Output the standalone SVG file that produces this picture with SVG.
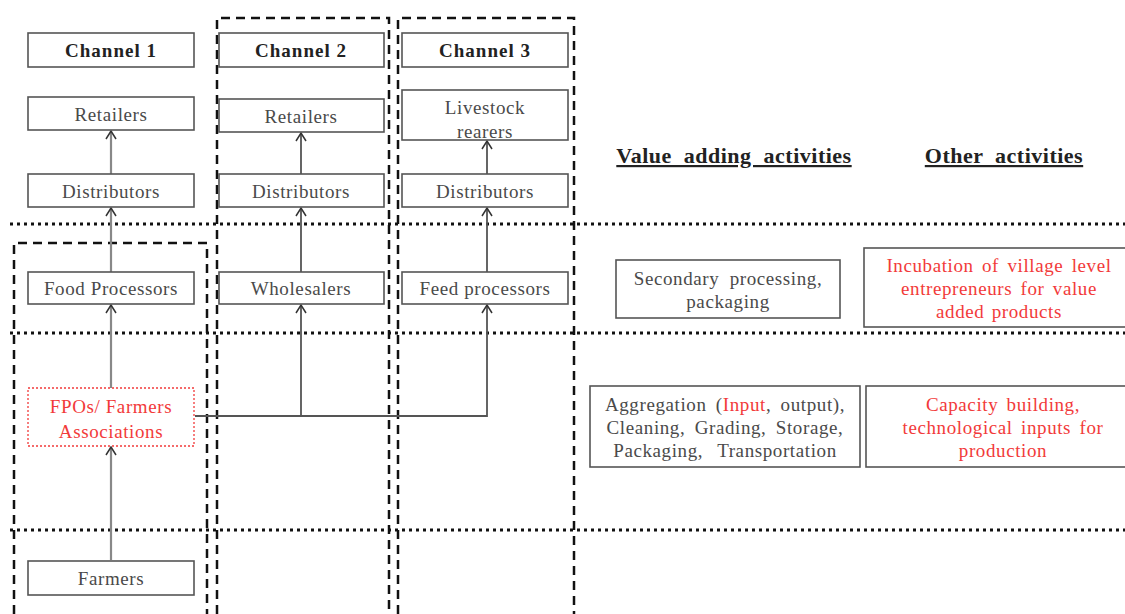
<svg xmlns="http://www.w3.org/2000/svg" width="1125" height="614" viewBox="0 0 1125 614">
<defs>
<marker id="ah" viewBox="0 0 10 12" refX="9" refY="6" markerWidth="10" markerHeight="12" markerUnits="userSpaceOnUse" orient="auto-start-reverse">
<path d="M1,1 L9,6 L1,11" fill="none" stroke="#333" stroke-width="1.5"/>
</marker>
<style>
.box{fill:#fff;stroke:#555;stroke-width:1.6}
.lbl{font-family:'Liberation Serif','Times New Roman','DejaVu Serif',serif;font-size:19px;letter-spacing:0.6px;fill:#4a4a4a;text-anchor:middle}
.hd{font-family:'Liberation Serif','Times New Roman','DejaVu Serif',serif;font-size:19px;letter-spacing:1px;font-weight:bold;fill:#222;text-anchor:middle}
.red{fill:#f23a3a}
.ttl{font-family:'Liberation Serif','Times New Roman','DejaVu Serif',serif;font-size:22px;letter-spacing:0.5px;font-weight:bold;fill:#222;text-anchor:middle;text-decoration:underline;word-spacing:6px}
.dot{stroke:#111;stroke-width:3;stroke-dasharray:3 4;fill:none}
.dash{stroke:#111;stroke-width:2.5;stroke-dasharray:9 6;fill:none}
.con{stroke:#555;stroke-width:1.8;fill:none}
.con1{stroke:#888;stroke-width:2.2;fill:none}
</style>
</defs>
<g id="bands">
<line class="dot" x1="10" y1="224" x2="1125" y2="224"/>
<line class="dot" x1="10" y1="333" x2="1125" y2="333"/>
<line class="dot" x1="10" y1="530" x2="1125" y2="530"/>
</g>
<g id="channel-frames">
<path class="dash" d="M14,614 V243 H207 V614"/>
<path class="dash" d="M217,614 V18 H389 V614"/>
<path class="dash" d="M398,614 V18 H574 V614"/>
</g>
<g id="connectors">
<line class="con1" x1="111" y1="174" x2="111" y2="131" marker-end="url(#ah)"/>
<line class="con1" x1="111" y1="272" x2="111" y2="208" marker-end="url(#ah)"/>
<line class="con1" x1="111" y1="388" x2="111" y2="305" marker-end="url(#ah)"/>
<line class="con1" x1="111" y1="560" x2="111" y2="447" marker-end="url(#ah)"/>
<line class="con" x1="301" y1="174" x2="301" y2="133" marker-end="url(#ah)"/>
<line class="con" x1="301" y1="272" x2="301" y2="208" marker-end="url(#ah)"/>
<line class="con" x1="487" y1="174" x2="487" y2="141" marker-end="url(#ah)"/>
<line class="con" x1="487" y1="272" x2="487" y2="208" marker-end="url(#ah)"/>
<polyline class="con" points="195,416 487,416 487,305" marker-end="url(#ah)"/>
<line class="con" x1="301" y1="416" x2="301" y2="305" marker-end="url(#ah)"/>
</g>
<g id="ch1-head"><rect class="box" x="28" y="33" width="166" height="34"/><text class="hd" x="111" y="57">Channel 1</text></g>
<g id="ch2-head"><rect class="box" x="219" y="33" width="165" height="34"/><text class="hd" x="301" y="57">Channel 2</text></g>
<g id="ch3-head"><rect class="box" x="402" y="33" width="166" height="34"/><text class="hd" x="485" y="57">Channel 3</text></g>
<g id="ch1-retailers"><rect class="box" x="28" y="97" width="166" height="33"/><text class="lbl" x="111" y="121">Retailers</text></g>
<g id="ch2-retailers"><rect class="box" x="219" y="99" width="165" height="33"/><text class="lbl" x="301" y="123">Retailers</text></g>
<g id="ch3-livestock"><rect class="box" x="402" y="90" width="166" height="50"/><text class="lbl" x="485" y="114">Livestock</text><text class="lbl" x="485" y="138">rearers</text></g>
<g id="ch1-distributors"><rect class="box" x="28" y="174" width="166" height="33"/><text class="lbl" x="111" y="198">Distributors</text></g>
<g id="ch2-distributors"><rect class="box" x="219" y="174" width="165" height="33"/><text class="lbl" x="301" y="198">Distributors</text></g>
<g id="ch3-distributors"><rect class="box" x="402" y="174" width="166" height="33"/><text class="lbl" x="485" y="198">Distributors</text></g>
<g id="food-processors"><rect class="box" x="28" y="272" width="166" height="32"/><text class="lbl" x="111" y="295">Food Processors</text></g>
<g id="wholesalers"><rect class="box" x="219" y="272" width="165" height="32"/><text class="lbl" x="301" y="295">Wholesalers</text></g>
<g id="feed-processors"><rect class="box" x="402" y="272" width="166" height="32"/><text class="lbl" x="485" y="295">Feed processors</text></g>
<g id="fpos"><rect x="28" y="388" width="166" height="58" fill="#fff" stroke="#f23a3a" stroke-width="1.3" stroke-dasharray="2 2"/><text class="lbl red" x="111" y="413">FPOs/ Farmers</text><text class="lbl red" x="111" y="438">Associations</text></g>
<g id="farmers"><rect class="box" x="28" y="561" width="166" height="34"/><text class="lbl" x="111" y="585">Farmers</text></g>
<g id="titles"><text class="ttl" x="734" y="163">Value adding activities</text><text class="ttl" x="1004" y="163">Other activities</text></g>
<g id="secondary"><rect class="box" x="616" y="260" width="224" height="58"/><text class="lbl" x="728" y="285" word-spacing="5">Secondary processing,</text><text class="lbl" x="728" y="308">packaging</text></g>
<g id="incubation"><rect class="box" x="864" y="248" width="270" height="79"/><text class="lbl red" x="999" y="272" word-spacing="3">Incubation of village level</text><text class="lbl red" x="999" y="295" word-spacing="3">entrepreneurs for value</text><text class="lbl red" x="999" y="318" word-spacing="2">added products</text></g>
<g id="aggregation"><rect class="box" x="590" y="386" width="270" height="81"/><text class="lbl" x="725" y="411" word-spacing="4">Aggregation  (<tspan class="red">Input</tspan>, output),</text><text class="lbl" x="725" y="434" word-spacing="4">Cleaning, Grading, Storage,</text><text class="lbl" x="725" y="457" word-spacing="9">Packaging, Transportation</text></g>
<g id="capacity"><rect class="box" x="866" y="386" width="270" height="81"/><text class="lbl red" x="1003" y="411" word-spacing="3">Capacity building,</text><text class="lbl red" x="1003" y="434" word-spacing="3">technological inputs for</text><text class="lbl red" x="1003" y="457">production</text></g>
</svg>
